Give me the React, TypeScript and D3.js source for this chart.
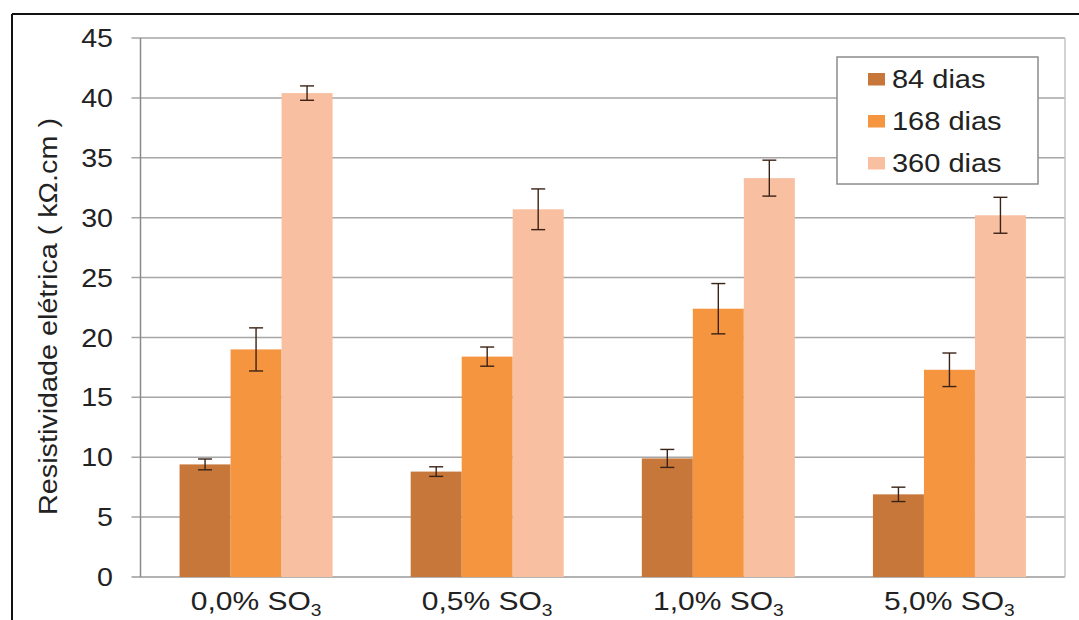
import { useEffect } from 'react';
import * as d3 from 'd3';

const categories = ['0,0%', '0,5%', '1,0%', '5,0%'];
const seriesNames = ['84 dias', '168 dias', '360 dias'];
const values84 = [9.4, 8.8, 9.9, 6.9];
const values168 = [19.0, 18.4, 22.4, 17.3];
const values360 = [40.4, 30.7, 33.3, 30.2];
const err84 = [0.45, 0.4, 0.75, 0.6];
const err168 = [1.8, 0.8, 2.1, 1.4];
const err360 = [0.6, 1.7, 1.5, 1.5];
const yTicks = [0, 5, 10, 15, 20, 25, 30, 35, 40, 45];

const colors = ['#c8773a', '#f5953f', '#f8bfa0'];
const font = '"Liberation Sans", Arial, sans-serif';

export default function App() {
  useEffect(() => {
    document.body.style.margin = '0';
  }, []);

  const width = 1079;
  const height = 620;
  const plot = { left: 140.5, right: 1065, top: 38, bottom: 577 };

  const x0 = d3
    .scaleBand()
    .domain(categories)
    .range([plot.left, plot.right])
    .paddingInner(0.338)
    .paddingOuter(0.169);
  const x1 = d3.scaleBand().domain(seriesNames).range([0, x0.bandwidth()]);
  const y = d3.scaleLinear().domain([0, 45]).range([plot.bottom, plot.top]);

  const series = [
    { name: seriesNames[0], values: values84, errs: err84 },
    { name: seriesNames[1], values: values168, errs: err168 },
    { name: seriesNames[2], values: values360, errs: err360 },
  ];

  return (
    <svg width={width} height={height} style={{ display: 'block', background: '#fff' }}>
      {/* outer frame */}
      <line x1={12} x2={width} y1={14} y2={14} stroke="#111" strokeWidth={2} />
      <line x1={12} x2={12} y1={14} y2={height} stroke="#111" strokeWidth={2} />

      {/* gridlines */}
      {yTicks.map((t) => (
        <line
          key={'g' + t}
          x1={plot.left - 9}
          x2={plot.right}
          y1={y(t)}
          y2={y(t)}
          stroke={t === 0 ? '#9a9a9a' : '#a6a6a6'}
          strokeWidth={1.5}
        />
      ))}
      <line x1={plot.left} x2={plot.left} y1={plot.top} y2={plot.bottom} stroke="#8a8a8a" strokeWidth={1.5} />
      <line x1={plot.right} x2={plot.right} y1={plot.top} y2={plot.bottom} stroke="#c4c4c4" strokeWidth={1.5} />

      {/* y tick labels */}
      {yTicks.map((t) => (
        <text
          key={'t' + t}
          transform={`translate(113,${y(t)}) scale(1.1,1)`}
          dy="0.35em"
          textAnchor="end"
          fontFamily={font}
          fontSize={26}
          fill="#222"
        >
          {t}
        </text>
      ))}

      <text
        transform={`translate(57,${(118 + 515) / 2}) rotate(-90) scale(1.15,1)`}
        textAnchor="middle"
        fontFamily={font}
        fontSize={25}
        fill="#222"
      >
        Resistividade elétrica ( kΩ.cm )
      </text>

      {/* bars */}
      {series.map((s, si) =>
        s.values.map((v, ci) => (
          <rect
            key={`b${si}-${ci}`}
            x={(x0(categories[ci]) ?? 0) + (x1(s.name) ?? 0)}
            y={y(v)}
            width={x1.bandwidth()}
            height={plot.bottom - y(v)}
            fill={colors[si]}
          />
        ))
      )}

      {/* error bars */}
      {series.map((s, si) =>
        s.values.map((v, ci) => {
          const cx = (x0(categories[ci]) ?? 0) + (x1(s.name) ?? 0) + x1.bandwidth() / 2;
          const hi = y(v + s.errs[ci]);
          const lo = y(v - s.errs[ci]);
          return (
            <g key={`e${si}-${ci}`} stroke="#3a2216" strokeWidth={1.4}>
              <line x1={cx} x2={cx} y1={hi} y2={lo} />
              <line x1={cx - 7} x2={cx + 7} y1={hi} y2={hi} />
              <line x1={cx - 7} x2={cx + 7} y1={lo} y2={lo} />
            </g>
          );
        })
      )}

      {/* x labels */}
      {categories.map((c) => (
        <text
          key={'x' + c}
          transform={`translate(${(x0(c) ?? 0) + x0.bandwidth() / 2},610) scale(1.2,1)`}
          textAnchor="middle"
          fontFamily={font}
          fontSize={25}
          fill="#222"
        >
          {c} SO
          <tspan fontSize={16} dy={6}>
            3
          </tspan>
        </text>
      ))}

      {/* legend */}
      <rect x={837} y={57} width={201} height={127} fill="#fff" stroke="#8c8c8c" strokeWidth={1.5} />
      {seriesNames.map((n, i) => (
        <g key={'l' + n}>
          <rect x={868} y={73 + i * 42} width={17} height={12.5} fill={colors[i]} />
          <text
            transform={`translate(892,${87.5 + i * 42}) scale(1.16,1)`}
            fontFamily={font}
            fontSize={25}
            fill="#222"
          >
            {n}
          </text>
        </g>
      ))}
    </svg>
  );
}
